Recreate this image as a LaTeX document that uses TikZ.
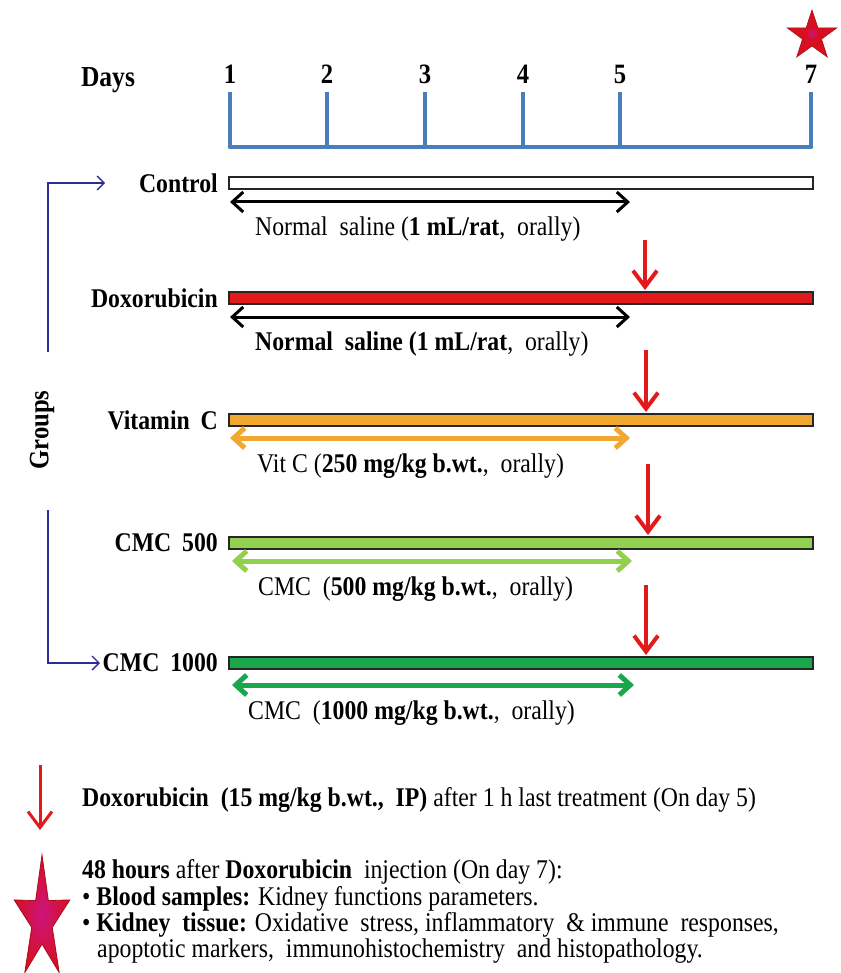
\documentclass[tikz,border=0pt]{standalone}
\usepackage{fontspec}
\setmainfont[FakeStretch=0.88]{Liberation Serif}
\usetikzlibrary{arrows.meta,calc,positioning,shapes.geometric}
\definecolor{tickblue}{RGB}{74,126,187}
\definecolor{doxred}{RGB}{226,26,28}
\definecolor{vitorange}{RGB}{240,168,48}
\definecolor{cmclight}{RGB}{146,208,80}
\definecolor{cmcdark}{RGB}{26,166,74}
\definecolor{groupblue}{RGB}{45,45,150}
\definecolor{starred}{RGB}{214,16,30}
\definecolor{starpink}{RGB}{205,20,125}
\pgfdeclareradialshading{topstar}{\pgfpoint{0bp}{0bp}}{color(0bp)=(starpink); color(7bp)=(starred); color(50bp)=(starred)}

\begin{document}
\begin{tikzpicture}[x=1pt,y=-1pt,
lbl/.style={font=\fontsize{27}{31}\selectfont\bfseries,anchor=east,inner sep=0pt},
dose/.style={font=\fontsize{27}{31}\selectfont,anchor=west,inner sep=0pt},
bar/.style={draw=black!85,line width=1.6pt},
span/.style={{Straight Barb[length=11pt,width=20pt]}-{Straight Barb[length=11pt,width=20pt]},line width=3pt},
doxarrow/.style={-{Straight Barb[length=16pt,width=24pt]},line width=4pt,draw=doxred},
grp/.style={-{Straight Barb[length=7pt,width=14pt]},line width=1.3pt,draw=groupblue}]
\tikzstyle{tick}=[line width=4.5pt,draw=tickblue]
\tikzstyle{note}=[font=\fontsize{27}{31}\selectfont,anchor=west,inner sep=0pt]

\useasboundingbox (0,0) rectangle (840,973);

\node[font=\fontsize{29}{32}\selectfont\bfseries] (days) at (108,80) {Days};
\foreach \d/\x in {1/230,2/327,3/425,4/523,5/620,7/811}{
  \node[font=\fontsize{28}{32}\selectfont\bfseries] (d\d) at (\x,74) {\d};
  \draw[tick] (\x,92) -- (\x,147);
}
\draw[tick,line cap=round] (230,147) -- (811,147);

% top star
\shade[shading=topstar,draw=starred!80!black,line width=0.6pt]
  ($(812,36)+(-90:26)$) -- ($(812,36)+(-54:10)$) -- ($(812,36)+(-18:26)$)
  -- ($(812,36)+(18:10)$) -- ($(812,36)+(54:26)$) -- ($(812,36)+(90:10)$)
  -- ($(812,36)+(126:26)$) -- ($(812,36)+(162:10)$) -- ($(812,36)+(198:26)$)
  -- ($(812,36)+(234:10)$) -- cycle;

\node[lbl] (control) at (218,183) {Control};
\node[lbl] (dox) at (218,298) {Doxorubicin};
\node[lbl] (vitc) at (218,420) {Vitamin\hspace{0.4em}C};
\node[lbl] (cmc5) at (218,543) {CMC\hspace{0.4em}500};
\node[lbl] (cmc10) at (218,663) {CMC\hspace{0.4em}1000};

\draw[bar,fill=white] (229,177) rectangle (813,189);
\draw[bar,fill=doxred] (229,292) rectangle (813,304);
\draw[bar,fill=vitorange] (229,414) rectangle (813,426);
\draw[bar,fill=cmclight] (229,537) rectangle (813,549);
\draw[bar,fill=cmcdark] (229,657) rectangle (813,669);

\coordinate (s1a) at (230,202); \coordinate (s1b) at (630,202);
\coordinate (s2a) at (230,317); \coordinate (s2b) at (630,317);
\coordinate (s3a) at (230,438); \coordinate (s3b) at (630,438);
\coordinate (s4a) at (232,561); \coordinate (s4b) at (632,561);
\coordinate (s5a) at (232,685); \coordinate (s5b) at (634,685);
\draw[span] (s1a) -- (s1b);
\draw[span] (s2a) -- (s2b);
\draw[span,draw=vitorange,line width=5pt] (s3a) -- (s3b);
\draw[span,draw=cmclight,line width=5pt] (s4a) -- (s4b);
\draw[span,draw=cmcdark,line width=5pt] (s5a) -- (s5b);

\node[dose] (dose1) at (255,229) {Normal\ \ saline (\textbf{1 mL/rat},\ \ orally)};
\node[dose] (dose2) at (255,344) {\textbf{Normal\ \ saline (1 mL/rat},\ \ orally)};
\node[dose] (dose3) at (257,466) {Vit C (\textbf{250 mg/kg b.wt.},\ \ orally)};
\node[dose] (dose4) at (258,589) {CMC\ \ (\textbf{500 mg/kg b.wt.},\ \ orally)};
\node[dose] (dose5) at (248,713) {CMC\ \ (\textbf{1000 mg/kg b.wt.},\ \ orally)};

\coordinate (r1a) at (645,240); \coordinate (r1b) at (645,290);
\coordinate (r2a) at (646,350); \coordinate (r2b) at (646,412);
\coordinate (r3a) at (648,464); \coordinate (r3b) at (648,535);
\coordinate (r4a) at (646,585); \coordinate (r4b) at (646,655);
\draw[doxarrow] (r1a) -- (r1b);
\draw[doxarrow] (r2a) -- (r2b);
\draw[doxarrow] (r3a) -- (r3b);
\draw[doxarrow] (r4a) -- (r4b);

\coordinate (gtop) at (48,352);
\coordinate (gbot) at (48,510);
\draw[grp] (gtop) |- (105,183);
\draw[grp] (gbot) |- (100,663);
\node[font=\fontsize{28}{32}\selectfont\bfseries,rotate=90] (groups) at (42,430) {Groups};

% legend
\coordinate (la) at (40,765); \coordinate (lb) at (40,830);
\draw[doxarrow,line width=3pt] (la) -- (lb);
\node[note] (leg1) at (82,800) {\textbf{Doxorubicin\ \ (15 mg/kg b.wt.,\ \ IP)} after 1 h last treatment (On day 5)};

\begin{scope}[shift={(42,920)},xscale=0.45]
\shade[inner color=starpink,outer color=starred,draw=starred!80!black,line width=0.8pt]
  (-90:65) -- (-54:24) -- (-18:65) -- (18:24) -- (54:65) -- (90:24)
  -- (126:65) -- (162:24) -- (198:65) -- (234:24) -- cycle;
\end{scope}

\node[note] (leg2) at (82,872) {\textbf{48 hours} after \textbf{Doxorubicin}\ \ injection (On day 7):};
\node[note] (leg3) at (82,899) {• \textbf{Blood samples:} Kidney functions parameters.};
\node[note] (leg4) at (82,925) {• \textbf{Kidney\ \ tissue:} Oxidative\ \ stress, inflammatory\ \ \& immune\ \ responses,};
\node[note] (leg5) at (97,951) {apoptotic markers,\ \ immunohistochemistry\ \ and histopathology.};
\end{tikzpicture}
\end{document}
